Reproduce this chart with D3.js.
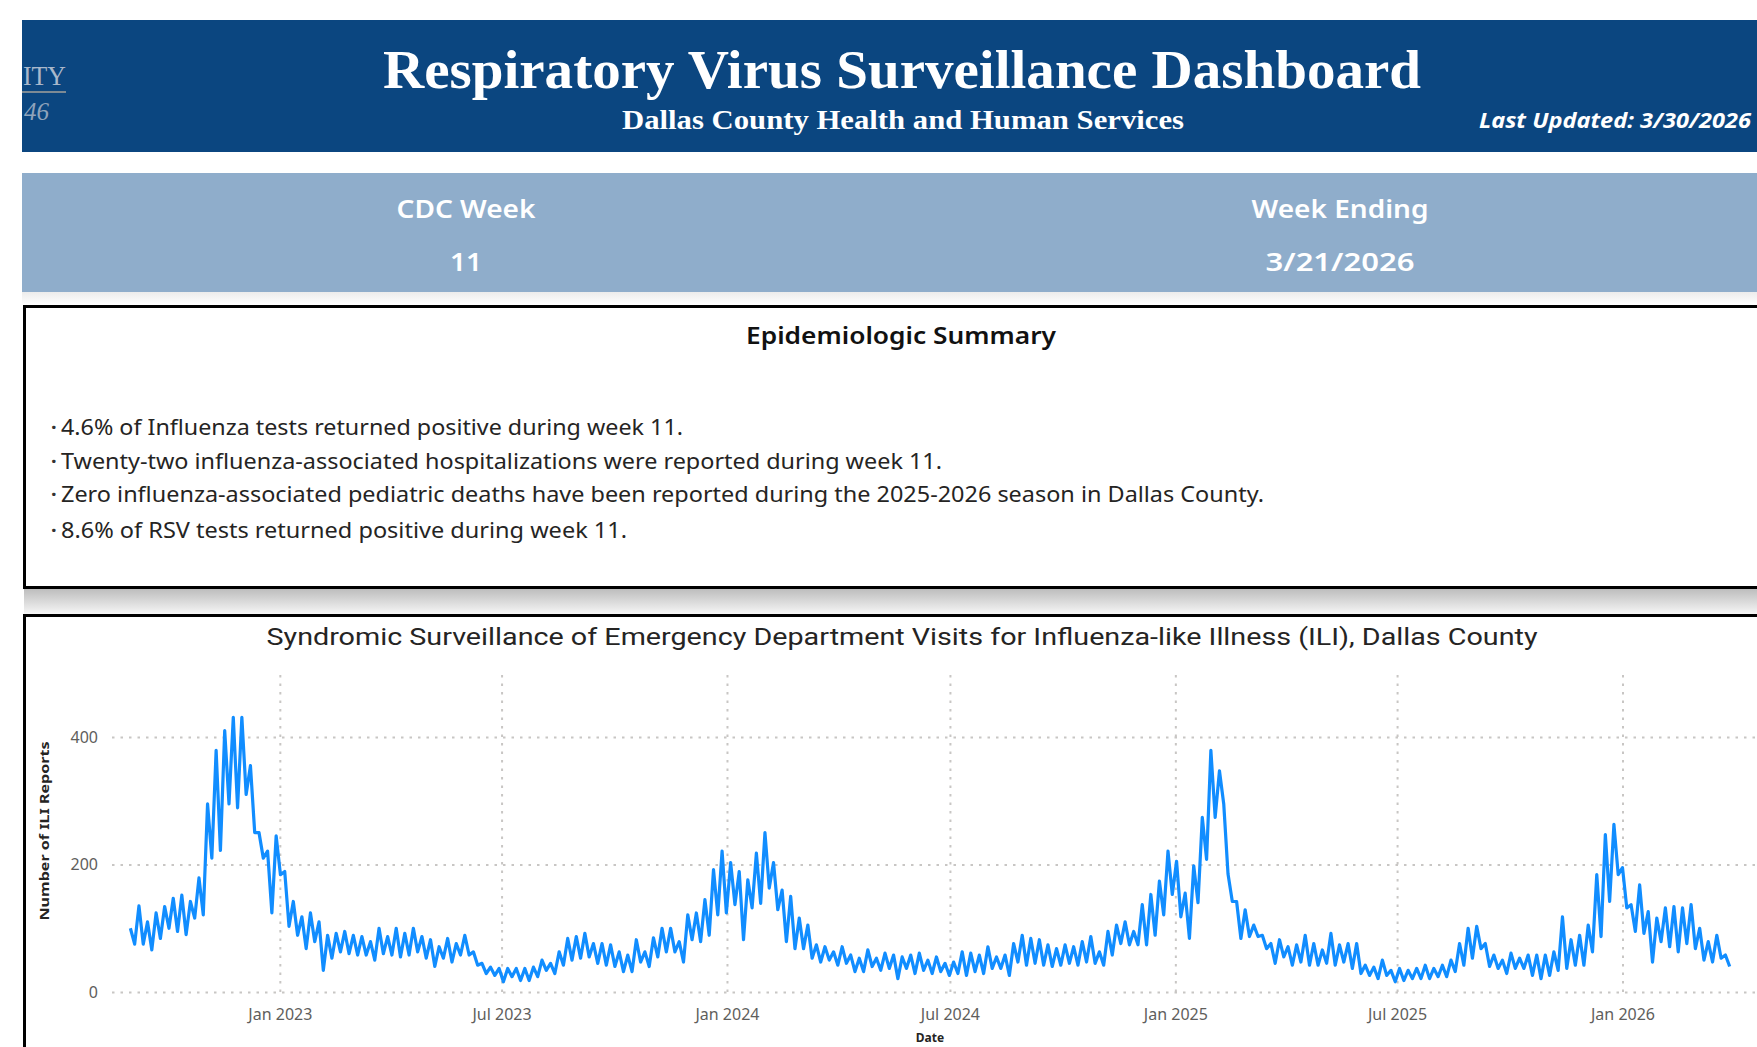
<!DOCTYPE html>
<html><head><meta charset="utf-8">
<script src="https://cdn.jsdelivr.net/npm/d3@7"></script>
<style>body{margin:0;background:#fff;overflow:hidden} svg{display:block}</style>
</head><body><svg id="c" width="1757" height="1047"></svg>
<script>
// ---------- text content ----------
const headerTitle = "Respiratory Virus Surveillance Dashboard";
const headerSubtitle = "Dallas County Health and Human Services";
const lastUpdated = "Last Updated:  3/30/2026";
const kpiLabels = ["CDC Week", "Week Ending"];
const kpiValues = ["11", "3/21/2026"];
const summaryTitle = "Epidemiologic Summary";
const summaryBullets = [
  "4.6% of Influenza tests returned positive during week 11.",
  "Twenty-two influenza-associated hospitalizations were reported during week 11.",
  "Zero influenza-associated pediatric deaths have been reported during the 2025-2026 season in Dallas County.",
  "8.6% of RSV tests returned positive during week 11."
];
const chartTitle = "Syndromic Surveillance of Emergency Department Visits for Influenza-like Illness (ILI), Dallas County";
const yAxisTitle = "Number of ILI Reports";
const xAxisTitle = "Date";

// ---------- data ----------
const seriesStart = "2022-09-01";  // first week of the series
// weekly upper (weekday) and lower (weekend) values of daily ILI reports
const iliWeeklyHigh = [100,135,110,124,134,147,152,142,179,295,379,410,431,431,355,250,221,245,189,142,
  118,124,110,89,92,95,89,87,79,100,87,100,92,100,87,82,71,84,76,89,
  63,45,39,37,37,37,37,39,50,45,63,84,87,92,76,76,74,63,58,82,
  63,85,100,100,79,121,124,145,192,221,203,189,176,218,250,203,160,150,116,105,
  74,71,63,71,58,53,66,53,61,58,55,58,61,50,55,45,47,63,61,58,
  71,55,58,76,89,84,82,74,68,74,71,79,87,63,95,105,110,95,137,153,
  174,221,205,155,198,274,379,347,185,142,129,105,89,76,82,71,74,89,76,66,
  92,74,76,76,42,39,50,34,37,34,37,42,37,42,50,76,100,103,76,58,
  50,61,53,58,58,58,63,118,82,89,105,184,247,263,195,137,168,126,116,132,
  134,132,137,100,79,89,58];
const iliWeeklyLow = [75,75,66,84,100,95,90,116,121,210,222,295,289,310,250,210,124,184,103,89,
  68,79,34,53,63,60,58,58,50,60,58,55,58,63,53,40,53,47,58,58,
  42,29,26,16,24,18,18,24,34,29,42,50,53,55,45,42,40,32,32,47,
  40,55,63,63,47,82,79,89,121,124,137,82,132,139,163,129,79,68,68,53,
  47,50,42,45,32,32,40,34,37,21,37,29,34,29,32,26,29,26,32,29,
  37,37,26,47,42,45,42,40,42,45,42,47,45,42,58,76,74,74,74,89,
  121,153,118,84,140,208,274,295,142,84,87,87,68,45,55,42,47,42,42,45,
  42,47,37,29,26,21,26,16,18,21,21,21,24,24,32,42,53,68,40,37,
  29,37,37,26,21,26,34,37,42,42,63,87,142,184,132,95,92,47,79,71,
  63,76,68,50,47,53,40];
const yTicks = [0, 200, 400];
const xTickDates = ["2023-01-01","2023-07-01","2024-01-01","2024-07-01","2025-01-01","2025-07-01","2026-01-01"];
const xTickLabels = ["Jan 2023","Jul 2023","Jan 2024","Jul 2024","Jan 2025","Jul 2025","Jan 2026"];
const xDomain = ["2022-08-17","2026-04-11"];
const yDomain = [0, 502];

// ---------- drawing ----------
const svg = d3.select("#c");
const W = 1757;
const SANS = "'Noto Sans', 'Open Sans', sans-serif";
const SERIF = "'Liberation Serif', 'DejaVu Serif', serif";
const fit = (sel, w) => sel.attr("textLength", w).attr("lengthAdjust", "spacingAndGlyphs");
const parse = d3.utcParse("%Y-%m-%d");

const defs = svg.append("defs");
const g1 = defs.append("linearGradient").attr("id","shadow1").attr("x1",0).attr("y1",0).attr("x2",0).attr("y2",1);
g1.append("stop").attr("offset","0%").attr("stop-color","#bdbdbd");
g1.append("stop").attr("offset","100%").attr("stop-color","#f6f6f6");
const g2 = defs.append("linearGradient").attr("id","shadow2").attr("x1",0).attr("y1",0).attr("x2",0).attr("y2",1);
g2.append("stop").attr("offset","0%").attr("stop-color","#ececec");
g2.append("stop").attr("offset","100%").attr("stop-color","#ffffff");

// header band
svg.append("rect").attr("x",22).attr("y",20).attr("width",W).attr("height",132).attr("fill","#0B4680");
svg.append("text").attr("x",23).attr("y",85)
  .attr("font-family",SERIF).attr("font-size",27).attr("fill","#a9b8cb").text("ITY").call(fit,43);
svg.append("line").attr("x1",22).attr("x2",66).attr("y1",92).attr("y2",92).attr("stroke","#7d8a94").attr("stroke-width",2);
svg.append("text").attr("x",24).attr("y",120).attr("font-style","italic")
  .attr("font-family",SERIF).attr("font-size",25).attr("fill","#8fa3bb").text("46");

svg.append("text").attr("x",902).attr("y",88).attr("text-anchor","middle")
  .attr("font-family",SERIF).attr("font-weight","bold").attr("font-size",54).attr("fill","#fff")
  .text(headerTitle).call(fit,1038);
svg.append("text").attr("x",903).attr("y",129).attr("text-anchor","middle")
  .attr("font-family",SERIF).attr("font-weight","bold").attr("font-size",27).attr("fill","#fff")
  .text(headerSubtitle).call(fit,562);
svg.append("text").attr("x",1479).attr("y",128)
  .attr("font-family",SANS).attr("font-weight","bold").attr("font-style","italic").attr("font-size",21).attr("fill","#fff")
  .text(lastUpdated).call(fit,272);

// KPI band
svg.append("rect").attr("x",22).attr("y",173).attr("width",W).attr("height",119).attr("fill","#8FADCB");
svg.append("rect").attr("x",22).attr("y",292).attr("width",W).attr("height",13).attr("fill","url(#shadow2)");
const kpiX = [466, 1340];
const kpiLabelW = [139, 177];
const kpiValueW = [32, 149];
kpiLabels.forEach((t,i)=>{
  svg.append("text").attr("x",kpiX[i]).attr("y",218).attr("text-anchor","middle")
    .attr("font-family",SANS).attr("font-weight",600).attr("font-size",26).attr("fill","#fff")
    .text(t).call(fit,kpiLabelW[i]);
  svg.append("text").attr("x",kpiX[i]).attr("y",271).attr("text-anchor","middle")
    .attr("font-family",SANS).attr("font-weight",600).attr("font-size",26).attr("fill","#fff")
    .text(kpiValues[i]).call(fit,kpiValueW[i]);
});

// summary box
svg.append("rect").attr("x",24).attr("y",589).attr("width",W).attr("height",25).attr("fill","url(#shadow1)");
svg.append("rect").attr("x",24.5).attr("y",306.5).attr("width",W+20).attr("height",281)
  .attr("fill","#fff").attr("stroke","#000").attr("stroke-width",3);
svg.append("text").attr("x",901).attr("y",344).attr("text-anchor","middle")
  .attr("font-family",SANS).attr("font-weight",600).attr("font-size",24).attr("fill","#111")
  .text(summaryTitle).call(fit,310);
const bulletY = [435, 469, 502, 538];
const bulletW = [622, 881, 1203, 566];
summaryBullets.forEach((t,i)=>{
  svg.append("text").attr("x",51).attr("y",bulletY[i]-1)
    .attr("font-family",SANS).attr("font-weight","bold").attr("font-size",20).attr("fill","#333").text("·");
  svg.append("text").attr("x",61).attr("y",bulletY[i])
    .attr("font-family",SANS).attr("font-size",21).attr("fill","#252423")
    .text(t).call(fit,bulletW[i]);
});

// chart box
svg.append("rect").attr("x",24.5).attr("y",615.5).attr("width",W+20).attr("height",500)
  .attr("fill","#fff").attr("stroke","#000").attr("stroke-width",3);
svg.append("text").attr("x",902).attr("y",645).attr("text-anchor","middle")
  .attr("font-family","Roboto, sans-serif").attr("font-size",24).attr("fill","#252423")
  .text(chartTitle).call(fit,1271);

const x = d3.scaleUtc().domain(xDomain.map(parse)).range([112, 1745]);
const y = d3.scaleLinear().domain(yDomain).range([992, 672]);

const yAxis = svg.append("g").attr("transform","translate(112,0)")
  .call(d3.axisLeft(y).tickValues(yTicks).tickSize(-(W-112)).tickPadding(14).tickFormat(d3.format("d")));
const xAxis = svg.append("g").attr("transform","translate(0,992)")
  .call(d3.axisBottom(x).tickValues(xTickDates.map(parse)).tickSize(-(992-672)).tickPadding(17)
    .tickFormat((d,i)=>xTickLabels[i]));
[yAxis, xAxis].forEach(a=>{
  a.select(".domain").remove();
  a.selectAll(".tick line").attr("stroke","#c8c6c4").attr("stroke-width",2).attr("stroke-dasharray","2.5,6");
  a.selectAll(".tick text").attr("font-family",SANS).attr("font-size",16).attr("fill","#605E5C");
});

svg.append("text").attr("x",930).attr("y",1042).attr("text-anchor","middle")
  .attr("font-family",SANS).attr("font-weight","bold").attr("font-size",12).attr("fill","#252423").text(xAxisTitle);
svg.append("text").attr("transform","translate(49,831) rotate(-90)").attr("text-anchor","middle")
  .attr("font-family",SANS).attr("font-weight","bold").attr("font-size",13).attr("fill","#252423")
  .text(yAxisTitle).call(fit,179);

// series: weekday high followed by weekend low of each week
const start = parse(seriesStart);
const points = [];
iliWeeklyHigh.forEach((h,i)=>{
  points.push({date: d3.utcHour.offset(start, i*168), v: h});
  points.push({date: d3.utcHour.offset(start, i*168+84), v: iliWeeklyLow[i]});
});
svg.append("path").datum(points)
  .attr("fill","none").attr("stroke","#118DFF").attr("stroke-width",3.2).attr("stroke-linejoin","round")
  .attr("d", d3.line().x(d=>x(d.date)).y(d=>y(d.v)));
</script></body></html>
